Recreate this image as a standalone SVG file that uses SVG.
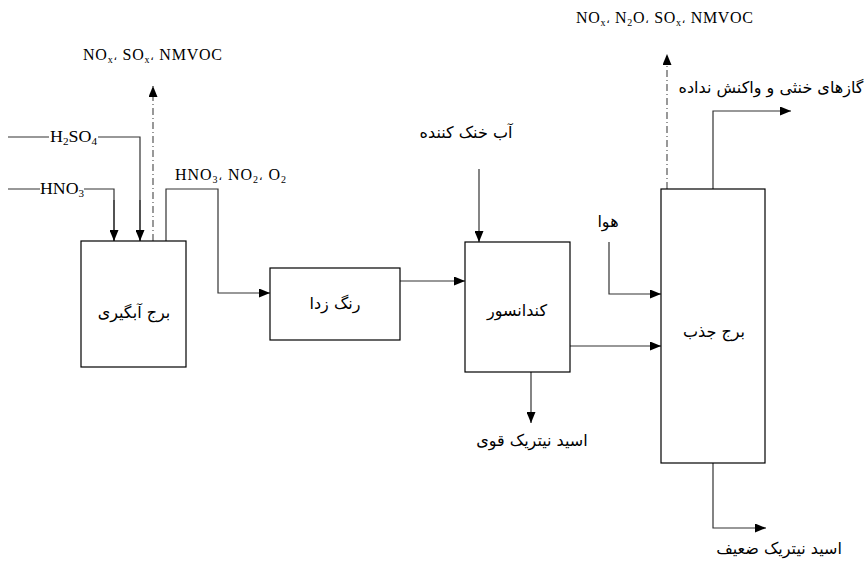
<svg xmlns="http://www.w3.org/2000/svg" width="865" height="561" viewBox="0 0 865 561">
<defs>
<marker id="ah" viewBox="0 0 11 9" refX="11" refY="4.5" markerWidth="11" markerHeight="9" markerUnits="userSpaceOnUse" orient="auto">
<path d="M0,0 L11,4.5 L0,9 z" fill="#000"/>
</marker>
</defs>
<style>
.box{fill:#fff;stroke:#000;stroke-width:1.2}
.ln{fill:none;stroke:#333;stroke-width:1.2}
.ar{marker-end:url(#ah)}
.dd{fill:none;stroke:#555;stroke-width:1.2;stroke-dasharray:7,3,1,3}
.lat{font-family:"Liberation Serif",serif;font-size:16px;fill:#000}
.fa{font-family:"DejaVu Sans","Noto Sans",sans-serif;font-size:16px;fill:#000}
.sub{font-size:10px}
.cm{font-family:"DejaVu Sans",sans-serif;font-size:11px}
</style>
<rect width="865" height="561" fill="#fff"/>
<g id="connectors">
<path class="ln" d="M8,137 H49 M98,137 H140 V241" />
<path class="ln ar" d="M140,200 V241"/>
<path class="ln" d="M8,189 H40 M84,189 H114 V241"/>
<path class="ln ar" d="M114,200 V241"/>
<path class="dd ar" d="M153,241 V86"/>
<path class="ln ar" d="M166,241 V189 H218 V293 H270"/>
<path class="ln ar" d="M400,281 H465"/>
<path class="ln ar" d="M479,169 V242"/>
<path class="ln ar" d="M531,372 V423"/>
<path class="ln ar" d="M570,346 H661"/>
<path class="ln ar" d="M609,242 V294 H661"/>
<path class="dd ar" d="M667,189 V54"/>
<path class="ln ar" d="M713,189 V111 H791"/>
<path class="ln ar" d="M713,463 V528 H766"/>
</g>
<g id="labels">
<text class="lat" x="50" y="142" textLength="47" lengthAdjust="spacingAndGlyphs">H<tspan class="sub" dy="3">2</tspan><tspan dy="-3">SO</tspan><tspan class="sub" dy="3">4</tspan></text>
<text class="lat" x="40" y="194" textLength="44" lengthAdjust="spacingAndGlyphs">HNO<tspan class="sub" dy="3">3</tspan></text>
<text class="lat" x="83" y="60" textLength="139">NO<tspan class="sub" dy="3">x</tspan><tspan class="cm" dy="-3">،</tspan> SO<tspan class="sub" dy="3">x</tspan><tspan class="cm" dy="-3">،</tspan> NMVOC</text>
<text class="lat" x="175" y="180" textLength="111">HNO<tspan class="sub" dy="3">3</tspan><tspan class="cm" dy="-3">،</tspan> NO<tspan class="sub" dy="3">2</tspan><tspan class="cm" dy="-3">،</tspan> O<tspan class="sub" dy="3">2</tspan></text>
<text class="lat" x="576" y="23" textLength="177">NO<tspan class="sub" dy="3">x</tspan><tspan class="cm" dy="-3">،</tspan> N<tspan class="sub" dy="3">2</tspan><tspan dy="-3">O</tspan><tspan class="cm">،</tspan> SO<tspan class="sub" dy="3">x</tspan><tspan class="cm" dy="-3">،</tspan> NMVOC</text>
<text class="fa" x="466" y="138" text-anchor="middle">آب خنک کننده</text>
<text class="fa" x="532" y="446" text-anchor="middle">اسید نیتریک قوی</text>
<text class="fa" x="608" y="227" text-anchor="middle">هوا</text>
<text class="fa" x="771" y="93" text-anchor="middle">گازهای خنثی و واکنش نداده</text>
<text class="fa" x="779" y="554" text-anchor="middle">اسید نیتریک ضعیف</text>
</g>
<g id="n1"><rect class="box" x="81" y="241" width="105" height="126"/><text class="fa" x="134" y="318" text-anchor="middle">برج آبگیری</text></g>
<g id="n2"><rect class="box" x="270" y="268" width="130" height="72"/><text class="fa" x="335" y="309" text-anchor="middle">رنگ زدا</text></g>
<g id="n3"><rect class="box" x="465" y="242" width="105" height="130"/><text class="fa" x="517" y="316" text-anchor="middle">کندانسور</text></g>
<g id="n4"><rect class="box" x="661" y="189" width="104" height="274"/><text class="fa" x="714" y="337" text-anchor="middle">برج جذب</text></g>
</svg>
